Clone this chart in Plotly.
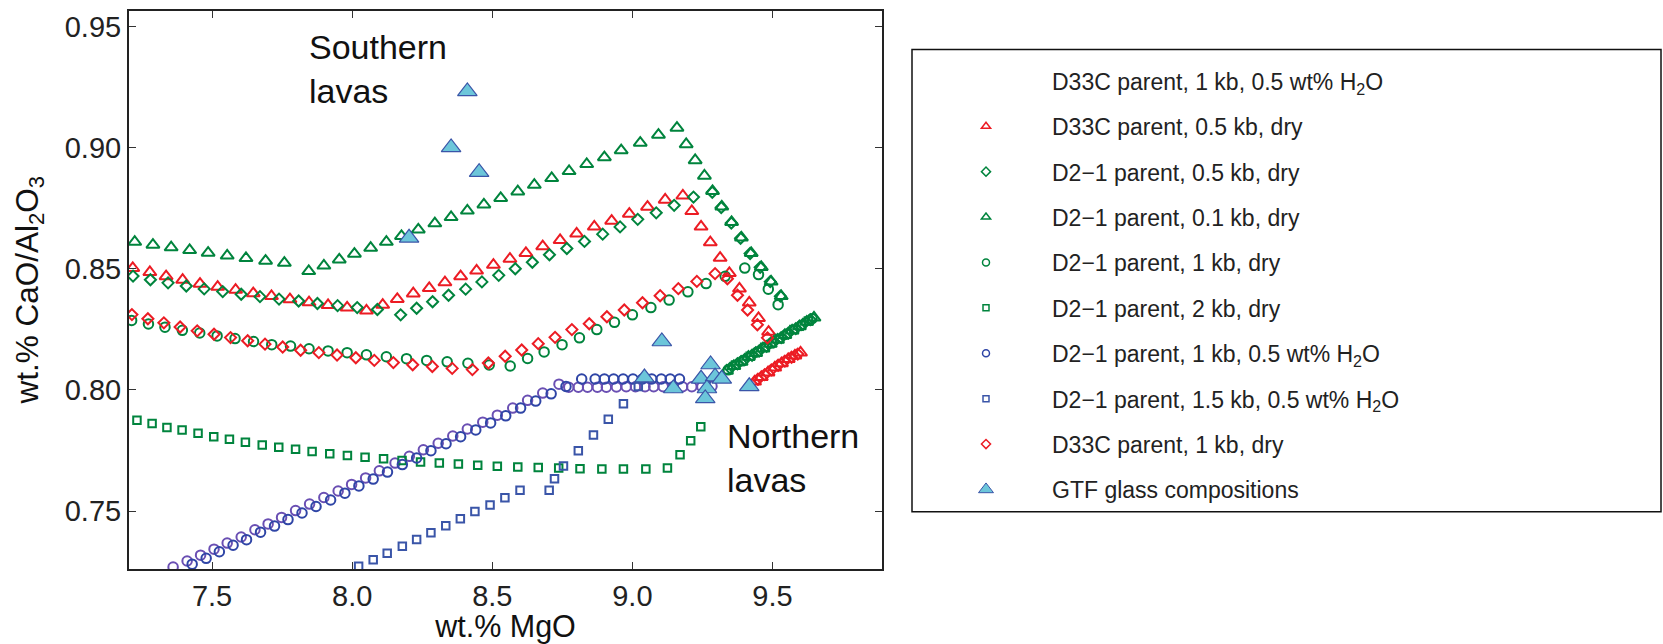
import plotly.graph_objects as go

# ---------------- data ----------------
# D33C parent, 1 kb, 0.5 wt% H2O (purple circles)
pc_x = [7.361, 7.411, 7.459, 7.507, 7.554, 7.604, 7.653, 7.700, 7.748, 7.798, 7.848, 7.899, 7.950,
        7.998, 8.048, 8.097, 8.153, 8.204, 8.254, 8.307, 8.359, 8.411, 8.466, 8.518, 8.573, 8.626,
        8.680, 8.738, 8.773, 8.807, 8.840, 8.875, 8.907, 8.943, 8.978, 9.011, 9.045, 9.076, 9.110,
        9.145, 9.179, 9.212, 9.248, 9.284]
pc_y = [0.7269, 0.7294, 0.7318, 0.7343, 0.7368, 0.7393, 0.7423, 0.7447, 0.7474, 0.7502, 0.7529,
        0.7556, 0.7583, 0.7610, 0.7637, 0.7666, 0.7698, 0.7726, 0.7753, 0.7780, 0.7810, 0.7839,
        0.7867, 0.7896, 0.7925, 0.7957, 0.7987, 0.8024, 0.8011, 0.8011, 0.8011, 0.8011, 0.8011,
        0.8012, 0.8013, 0.8013, 0.8013, 0.8013, 0.8013, 0.8013, 0.8013, 0.8013, 0.8013, 0.8015]

# D33C parent, 0.5 kb, dry (red triangles)
rt_x = [7.217, 7.278, 7.336, 7.395, 7.457, 7.520, 7.584, 7.647, 7.712, 7.778, 7.846, 7.914, 7.982,
        8.051, 8.109, 8.161, 8.218, 8.275, 8.331, 8.387, 8.444, 8.504, 8.563, 8.620, 8.680, 8.742,
        8.801, 8.864, 8.926, 8.989, 9.054, 9.117, 9.180, 9.212, 9.245, 9.278, 9.313, 9.346, 9.382,
        9.417, 9.450, 9.486,
        9.436, 9.460, 9.484, 9.508, 9.532, 9.556, 9.580, 9.600]
rt_y = [0.8503, 0.8486, 0.8469, 0.8454, 0.8438, 0.8425, 0.8413, 0.8399, 0.8387, 0.8374, 0.8361,
        0.8350, 0.8340, 0.8327, 0.8351, 0.8375, 0.8398, 0.8420, 0.8444, 0.8469, 0.8492, 0.8516,
        0.8541, 0.8565, 0.8593, 0.8618, 0.8645, 0.8674, 0.8698, 0.8727, 0.8756, 0.8785, 0.8802,
        0.8738, 0.8674, 0.8609, 0.8545, 0.8482, 0.8418, 0.8360, 0.8296, 0.8240,
        0.8034, 0.8053, 0.8072, 0.8092, 0.8110, 0.8127, 0.8142, 0.8154]

# D2-1 parent, 0.5 kb, dry (green diamonds)
gd_x = [7.218, 7.280, 7.343, 7.408, 7.472, 7.538, 7.604, 7.671, 7.739, 7.809, 7.876, 7.948, 8.018,
        8.090, 8.173, 8.230, 8.287, 8.344, 8.405, 8.463, 8.523, 8.582, 8.643, 8.704, 8.766, 8.829,
        8.894, 8.956, 9.019, 9.085, 9.149, 9.218, 9.285, 9.317, 9.353, 9.386, 9.420, 9.456, 9.492,
        9.528,
        9.349, 9.375, 9.401, 9.427, 9.453, 9.479, 9.505, 9.531, 9.557, 9.583, 9.609, 9.635]
gd_y = [0.8470, 0.8455, 0.8442, 0.8429, 0.8417, 0.8406, 0.8395, 0.8385, 0.8375, 0.8367, 0.8357,
        0.8348, 0.8340, 0.8332, 0.8310, 0.8337, 0.8364, 0.8391, 0.8416, 0.8446, 0.8473, 0.8500,
        0.8527, 0.8558, 0.8584, 0.8613, 0.8643, 0.8673, 0.8704, 0.8731, 0.8762, 0.8796, 0.8816,
        0.8753, 0.8689, 0.8626, 0.8563, 0.8506, 0.8447, 0.8387,
        0.8090, 0.8108, 0.8126, 0.8143, 0.8162, 0.8180, 0.8199, 0.8216, 0.8235, 0.8253, 0.8271,
        0.8290]

# D2-1 parent, 0.1 kb, dry (green triangles)
gt_x = [7.224, 7.289, 7.354, 7.420, 7.486, 7.554, 7.621, 7.691, 7.758, 7.845, 7.899, 7.954, 8.008,
        8.066, 8.122, 8.176, 8.236, 8.295, 8.353, 8.411, 8.470, 8.530, 8.591, 8.650, 8.712, 8.774,
        8.837, 8.900, 8.960, 9.028, 9.093, 9.159, 9.192, 9.224, 9.257, 9.286, 9.319, 9.354, 9.389,
        9.424, 9.460, 9.495, 9.531,
        9.336, 9.362, 9.388, 9.414, 9.440, 9.466, 9.492, 9.518, 9.544, 9.570, 9.596, 9.622, 9.648]
gt_y = [0.8611, 0.8599, 0.8588, 0.8577, 0.8566, 0.8554, 0.8544, 0.8533, 0.8524, 0.8490, 0.8513,
        0.8538, 0.8562, 0.8586, 0.8611, 0.8635, 0.8662, 0.8687, 0.8713, 0.8740, 0.8765, 0.8792,
        0.8819, 0.8846, 0.8874, 0.8903, 0.8932, 0.8960, 0.8989, 0.9020, 0.9053, 0.9082, 0.9014,
        0.8948, 0.8884, 0.8821, 0.8757, 0.8693, 0.8629, 0.8565, 0.8507, 0.8447, 0.8387,
        0.8079, 0.8098, 0.8116, 0.8136, 0.8152, 0.8171, 0.8190, 0.8207, 0.8226, 0.8245, 0.8262,
        0.8281, 0.8298]

# D2-1 parent, 1 kb, dry (green circles)
gc_x = [7.213, 7.273, 7.332, 7.394, 7.456, 7.518, 7.582, 7.648, 7.713, 7.780, 7.846, 7.914, 7.982,
        8.051, 8.122, 8.194, 8.266, 8.339, 8.413, 8.489, 8.564, 8.626, 8.685, 8.749, 8.811, 8.873,
        8.936, 9.000, 9.066, 9.131, 9.198, 9.263, 9.331, 9.401, 9.450, 9.485, 9.520,
        9.342, 9.394, 9.446, 9.498, 9.550, 9.602, 9.641]
gc_y = [0.8287, 0.8272, 0.8259, 0.8246, 0.8235, 0.8223, 0.8212, 0.8200, 0.8187, 0.8181, 0.8170,
        0.8161, 0.8154, 0.8145, 0.8137, 0.8129, 0.8122, 0.8116, 0.8110, 0.8103, 0.8099, 0.8130,
        0.8157, 0.8187, 0.8215, 0.8249, 0.8279, 0.8310, 0.8340, 0.8371, 0.8405, 0.8439, 0.8469,
        0.8503, 0.8476, 0.8416, 0.8352,
        0.8083, 0.8120, 0.8157, 0.8194, 0.8230, 0.8266, 0.8294]

# D2-1 parent, 2 kb, dry (green squares)
gs_x = [7.232, 7.286, 7.339, 7.393, 7.450, 7.506, 7.562, 7.619, 7.679, 7.738, 7.798, 7.857, 7.920,
        7.983, 8.046, 8.112, 8.178, 8.244, 8.311, 8.379, 8.448, 8.518, 8.591, 8.664, 8.737, 8.813,
        8.891, 8.968, 9.048, 9.125, 9.170, 9.208, 9.244,
        9.368, 9.420, 9.472, 9.524, 9.576, 9.628]
gs_y = [0.7875, 0.7861, 0.7845, 0.7835, 0.7821, 0.7807, 0.7796, 0.7784, 0.7773, 0.7764, 0.7755,
        0.7746, 0.7737, 0.7729, 0.7722, 0.7716, 0.7709, 0.7703, 0.7698, 0.7694, 0.7689, 0.7685,
        0.7682, 0.7680, 0.7678, 0.7675, 0.7674, 0.7674, 0.7674, 0.7678, 0.7733, 0.7790, 0.7848,
        0.8103, 0.8139, 0.8176, 0.8212, 0.8249, 0.8285]

# D2-1 parent, 1 kb, 0.5 wt% H2O (blue circles)
bc_x = [7.429, 7.479, 7.526, 7.575, 7.623, 7.673, 7.723, 7.771, 7.821, 7.871, 7.923, 7.974, 8.024,
        8.075, 8.126, 8.179, 8.230, 8.281, 8.335, 8.387, 8.441, 8.494, 8.548, 8.601, 8.655, 8.710,
        8.763, 8.819, 8.867, 8.900, 8.933, 8.967, 9.002, 9.036, 9.069, 9.103, 9.135, 9.168]
bc_y = [0.7281, 0.7305, 0.7332, 0.7359, 0.7382, 0.7413, 0.7438, 0.7465, 0.7492, 0.7519, 0.7546,
        0.7574, 0.7604, 0.7632, 0.7661, 0.7692, 0.7719, 0.7749, 0.7778, 0.7807, 0.7835, 0.7864,
        0.7893, 0.7925, 0.7954, 0.7984, 0.8014, 0.8045, 0.8045, 0.8045, 0.8045, 0.8045, 0.8045,
        0.8045, 0.8045, 0.8045, 0.8045, 0.8045]

# D2-1 parent, 1.5 kb, 0.5 wt% H2O (blue squares)
bs_x = [8.023, 8.075, 8.125, 8.179, 8.230, 8.281, 8.334, 8.386, 8.438, 8.492, 8.545, 8.599, 8.703,
        8.722, 8.754, 8.807, 8.861, 8.914, 8.968, 9.021]
bs_y = [0.7272, 0.7299, 0.7326, 0.7355, 0.7383, 0.7411, 0.7439, 0.7468, 0.7498, 0.7525, 0.7555,
        0.7586, 0.7586, 0.7633, 0.7686, 0.7749, 0.7814, 0.7879, 0.7943, 0.8014]

# D33C parent, 1 kb, dry (red diamonds)
rd_x = [7.214, 7.271, 7.328, 7.386, 7.447, 7.507, 7.566, 7.627, 7.689, 7.752, 7.816, 7.881, 7.946,
        8.013, 8.079, 8.147, 8.216, 8.286, 8.357, 8.429, 8.486, 8.546, 8.605, 8.664, 8.724, 8.784,
        8.846, 8.909, 8.971, 9.036, 9.099, 9.164, 9.230, 9.295, 9.339, 9.375, 9.411, 9.446, 9.482,
        9.448, 9.472, 9.496, 9.520, 9.544, 9.568, 9.590]
rd_y = [0.8311, 0.8294, 0.8277, 0.8260, 0.8244, 0.8230, 0.8216, 0.8203, 0.8189, 0.8177, 0.8164,
        0.8154, 0.8144, 0.8133, 0.8122, 0.8113, 0.8104, 0.8097, 0.8089, 0.8084, 0.8111, 0.8139,
        0.8165, 0.8191, 0.8217, 0.8249, 0.8273, 0.8302, 0.8330, 0.8360, 0.8389, 0.8418, 0.8448,
        0.8480, 0.8459, 0.8391, 0.8330, 0.8269, 0.8215,
        0.8044, 0.8063, 0.8083, 0.8102, 0.8119, 0.8135, 0.8148]

# GTF glass compositions (filled triangles)
gtf_x = [8.203, 8.353, 8.411, 8.453, 9.105, 9.043, 9.146, 9.279, 9.245, 9.295, 9.319, 9.266, 9.260, 9.417]
gtf_y = [0.8628, 0.9001, 0.9232, 0.8899, 0.8200, 0.8051, 0.8006, 0.8105, 0.8046, 0.8055, 0.8046,
         0.8006, 0.7965, 0.8015]

x_ticks = [7.5, 8.0, 8.5, 9.0, 9.5]
x_tick_text = ["7.5", "8.0", "8.5", "9.0", "9.5"]
y_ticks = [0.75, 0.80, 0.85, 0.90, 0.95]
y_tick_text = ["0.75", "0.80", "0.85", "0.90", "0.95"]

names = [
    "D33C parent, 1 kb, 0.5 wt% H<sub>2</sub>O",
    "D33C parent, 0.5 kb, dry",
    "D2\u22121 parent, 0.5 kb, dry",
    "D2\u22121 parent, 0.1 kb, dry",
    "D2\u22121 parent, 1 kb, dry",
    "D2\u22121 parent, 2 kb, dry",
    "D2\u22121 parent, 1 kb, 0.5 wt% H<sub>2</sub>O",
    "D2\u22121 parent, 1.5 kb, 0.5 wt% H<sub>2</sub>O",
    "D33C parent, 1 kb, dry",
    "GTF glass compositions",
]

# ---------------- styles ----------------
RED = "#EC1C24"
GREEN = "#00843D"
BLUE = "#2F45A6"
PURPLE = "#6A4FB3"
BSQ = "#3A55A8"
CYAN = "#6CC6DA"
NONE = "rgba(0,0,0,0)"

series = [
    # x, y, symbol, size, color, legend symbol size, legend colour
    (pc_x, pc_y, "circle-open", 9.5, PURPLE, 7, NONE),
    (rt_x, rt_y, "triangle-up-open", 11.5, RED, 8, RED),
    (gd_x, gd_y, "diamond-open", 8.5, GREEN, 7, GREEN),
    (gt_x, gt_y, "triangle-up-open", 11.5, GREEN, 8, GREEN),
    (gc_x, gc_y, "circle-open", 9.5, GREEN, 7, GREEN),
    (gs_x, gs_y, "square-open", 7.5, GREEN, 6, GREEN),
    (bc_x, bc_y, "circle-open", 9.5, BLUE, 7, BLUE),
    (bs_x, bs_y, "square-open", 7.5, BSQ, 6, BSQ),
    (rd_x, rd_y, "diamond-open", 8.5, RED, 7, RED),
]

fig = go.Figure()
for i, (sx, sy, sym, sz, col, lsz, lcol) in enumerate(series):
    fig.add_trace(go.Scatter(
        x=sx, y=sy, mode="markers", name=names[i], showlegend=False,
        marker=dict(symbol=sym, size=sz, color=col, line=dict(width=2, color=col)),
    ))
fig.add_trace(go.Scatter(
    x=gtf_x, y=gtf_y, mode="markers", name=names[9], showlegend=False,
    marker=dict(symbol="triangle-up", size=17, color=CYAN, line=dict(width=1.2, color=BSQ)),
))

# legend entries (same names, legend-sized symbols)
for i, (sx, sy, sym, sz, col, lsz, lcol) in enumerate(series):
    fig.add_trace(go.Scatter(
        x=[None], y=[None], mode="markers", name=names[i], legendgroup="g%d" % i,
        marker=dict(symbol=sym, size=lsz, color=lcol, line=dict(width=1.5, color=lcol)),
    ))
fig.add_trace(go.Scatter(
    x=[None], y=[None], mode="markers", name=names[9], legendgroup="g9",
    marker=dict(symbol="triangle-up", size=13, color=CYAN, line=dict(width=1, color=BSQ)),
))

FONT = "Liberation Sans, Arial, sans-serif"
L, R, T, B = 129, 781, 9, 70
W, H = 1663, 644
pw, ph = W - L - R, H - T - B

def px_x(p):
    return (p - L) / pw

def px_y(p):
    return (H - B - p) / ph

fig.update_layout(
    width=W, height=H,
    margin=dict(l=L, r=R, t=T, b=B, pad=0),
    paper_bgcolor="white", plot_bgcolor="white",
    font=dict(family=FONT, size=29, color="#222"),
    showlegend=True,
    legend=dict(
        x=px_x(920), y=px_y(58), xanchor="left", yanchor="top",
        font=dict(family=FONT, size=23, color="#222"),
        bgcolor="rgba(0,0,0,0)", borderwidth=0,
        itemwidth=122, tracegroupgap=12.5, traceorder="grouped",
        itemclick=False, itemdoubleclick=False,
    ),
    xaxis=dict(
        range=[7.2036, 9.8907], tickvals=x_ticks, ticktext=x_tick_text,
        ticks="inside", ticklen=7, tickwidth=1.2, tickcolor="#333",
        showline=True, linewidth=2, linecolor="#222", mirror="ticks",
        showgrid=False, zeroline=False,
        tickfont=dict(size=29, color="#222"),
        title=dict(text="wt.% MgO", font=dict(size=30.5, color="#111"), standoff=2),
    ),
    yaxis=dict(
        range=[0.7261, 0.9564], tickvals=y_ticks, ticktext=y_tick_text,
        ticks="inside", ticklen=7, tickwidth=1.2, tickcolor="#333",
        showline=True, linewidth=2, linecolor="#222", mirror="ticks",
        showgrid=False, zeroline=False,
        tickfont=dict(size=29, color="#222"),
    ),
    shapes=[dict(type="rect", xref="paper", yref="paper",
                 x0=px_x(912), x1=px_x(1661), y0=px_y(516), y1=px_y(48),
                 line=dict(color="#111", width=1.5), fillcolor="rgba(0,0,0,0)")],
    annotations=[
        dict(x=px_x(29), y=px_y(292), xref="paper", yref="paper",
             text="wt.% CaO/Al<sub>2</sub>O<sub>3</sub>", textangle=-90, showarrow=False,
             xanchor="center", yanchor="middle", font=dict(size=31.5, color="#111")),
        dict(x=7.838, y=0.9325, xref="x", yref="y", text="Southern<br>lavas", showarrow=False,
             xanchor="left", yanchor="middle", align="left", font=dict(size=34, color="#111")),
        dict(x=9.331, y=0.7718, xref="x", yref="y", text="Northern<br>lavas", showarrow=False,
             xanchor="left", yanchor="middle", align="left", font=dict(size=34, color="#111")),
    ],
)

fig.write_html("out.html")
